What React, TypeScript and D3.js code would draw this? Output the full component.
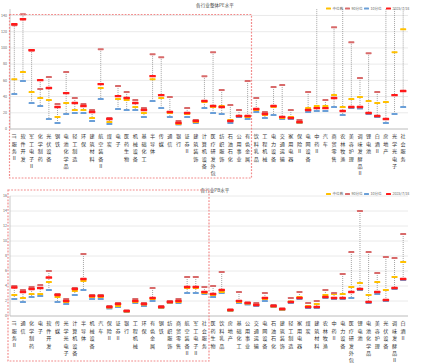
import React from "react";
import * as d3 from "d3";

// ---------- Top panel (PE) ----------
const peCategories = ["IT服务Ⅱ","软件开发","军工电子Ⅱ","化学制药","光伏设备","钢铁","电池化学品","轻工制造","环保","建筑材料","航空装备Ⅱ","煤炭","电子","医药生物","机械设备","基础化工","半导体","传媒","通信","银行","证券Ⅱ","建筑装饰","计算机设备","医疗研发外包","纺织服饰","石油石化","公用事业","有色金属","饮料乳品","工程机械","电力设备","交通运输","家用电器","保险Ⅱ","电网设备","中药Ⅱ","汽车","商贸零售","农林牧渔","美容护理","调味发酵品Ⅱ","锂电池","白酒Ⅱ","房地产","光学光电子","社会服务"];
const peP90 = [128,141.5,97,49.2,64,30.8,70.2,38.2,30.8,23.4,98.5,13.5,52.9,45.5,35.7,25.8,92.3,88.6,39.4,9.8,25.8,11.1,65.2,94.8,48,29.5,23.4,59.1,38.2,20.9,51.7,54.2,23.4,11.1,45.5,170,35.7,125.5,180,107,62.8,93.5,45.5,200,190,220];
const peCurrent = [129.2,135.4,97.2,60.3,50.5,27.1,44.3,32,28.3,20.9,55.4,12.3,40.6,38.2,32,23.4,65.2,41.8,20.9,7.4,19.7,9.8,34.5,28.3,27.1,9.8,16,16,24.6,18.5,28.3,14.8,13.5,8.6,23.4,25.8,25.8,38.2,22.2,27.1,27.1,19.7,16,12.3,41.8,46.8];
const peMedian = [61.5,70.2,45.5,38.2,35.7,14.8,32,23.4,23.4,13.5,50.5,8.6,36.9,35.7,27.1,19.7,61.5,38.2,19.7,6.2,18.5,8.6,33.2,27.1,28.3,11.1,16,14.8,23.4,17.2,27.1,13.5,14.8,8,25.8,28.3,28.3,41.8,27.1,36.9,39.4,34.5,32,33.2,94.8,123];
const peP10 = [43.1,59.1,32,28.3,12.3,7.4,18.5,19.7,19.7,9.8,36.9,6.2,24.6,23.4,23.4,14.8,34.5,25.8,14.8,5.5,14.8,7.4,25.8,19.7,18.5,7.4,14.8,12.3,20.9,13.5,17.2,12.3,12.3,7.4,20.9,22.2,22.2,27.1,17.2,25.8,25.2,18.5,14.8,7.4,18.5,27.1];
const peTicks = [0,20,40,60,80,100,120,140];

// ---------- Bottom panel (PB) ----------
const pbCategories = ["IT服务Ⅱ","通信","化学制药","电子","软件开发","传媒","光学光电子","计算机设备","半导体","机械设备","汽车","保险Ⅱ","证券Ⅱ","银行","工程机械","环保","有色金属","钢铁","纺织服饰","商贸零售","航空装备Ⅱ","军工电子Ⅱ","社会服务","医药生物","饮料乳品","房地产","基础化工","公用事业","交通运输","电网设备","石油石化","建筑装饰","轻工制造","家用电器","煤炭","建筑材料","农林牧渔","中药Ⅱ","电力设备","医疗研发外包","锂电池","电池化学品","美容护理","光伏设备","调味发酵品Ⅱ","白酒Ⅱ"];
const pbP90 = [4.0,3.47,3.87,4.13,6.0,2.93,2.27,3.73,8.27,2.8,2.8,1.33,1.73,0.73,2.27,1.73,3.73,1.33,2.0,2.27,5.2,5.2,3.87,4.0,5.87,0.87,3.2,1.8,1.73,3.07,1.47,1.0,2.4,3.2,1.73,2.0,3.47,3.07,5.6,8.53,14.0,8.53,5.73,7.87,7.73,10.93];
const pbCurrent = [3.8,3.2,3.6,3.73,5.13,2.8,2.0,3.6,4.93,2.67,2.67,1.2,1.6,0.67,2.0,1.6,2.4,1.2,1.87,2.0,3.87,3.87,3.2,2.93,3.47,0.8,2.0,1.73,1.47,2.4,1.33,0.93,1.87,2.4,1.2,1.2,2.53,2.4,2.4,3.2,3.6,1.87,3.2,2.13,3.73,4.93];
const pbMedian = [2.8,2.4,2.93,2.93,4.53,2.53,1.87,3.33,4.67,2.53,2.53,1.13,1.33,0.6,1.87,1.53,2.27,1.13,1.8,1.87,3.73,3.73,3.07,2.8,3.2,0.73,1.87,1.67,1.53,2.27,1.27,0.87,1.93,2.53,1.33,1.6,2.8,2.93,2.93,3.87,4.4,2.8,4.53,3.47,5.2,7.2];
const pbP10 = [2.27,1.87,2.53,2.67,3.47,1.87,1.6,2.8,3.47,2.27,2.27,1.0,1.2,0.53,1.73,1.33,2.0,1.07,1.73,1.73,3.07,3.07,2.93,2.53,3.07,0.67,1.73,1.53,1.33,2.0,1.2,0.8,1.73,2.27,1.07,1.07,2.4,2.27,2.27,2.4,3.47,1.73,2.93,2.0,3.6,4.8];
const pbTicks = [0,2,4,6,8,10,12,14,16];

const legendNames = ["中位数","90分位","10分位","2025/7/18"];

const C_MED = "#FFC000";
const C_P90 = "#D86A6A";
const C_P10 = "#6A9FD8";
const C_CUR = "#FF1A1A";
const FONT = "'Noto Sans CJK SC', 'Noto Sans', sans-serif";
const LABEL_FS = 5.1;
const LABEL_STEP = 7.4;

function VerticalLabel({ cx, top, text }: { cx: number; top: number; text: string }) {
  const parts: React.ReactNode[] = [];
  let cursor = top;
  const chars = Array.from(text);
  let i = 0;
  let k = 0;
  while (i < chars.length) {
    if (/[A-Za-z0-9]/.test(chars[i])) {
      let run = "";
      while (i < chars.length && /[A-Za-z0-9]/.test(chars[i])) { run += chars[i]; i++; }
      parts.push(
        <text key={k++} transform={`translate(${cx - 0.2},${cursor}) rotate(90)`} dy="0.35em" fontSize={LABEL_FS}
          fill="#333" fontFamily={FONT}>{run}</text>
      );
      cursor += run.length * LABEL_FS * 0.5 + 2;
    } else {
      parts.push(
        <text key={k++} x={cx} y={cursor + LABEL_FS * 0.88} textAnchor="middle" fontSize={LABEL_FS}
          fill="#333" fontFamily={FONT}>{chars[i]}</text>
      );
      cursor += LABEL_STEP;
      i++;
    }
  }
  return <g>{parts}</g>;
}

type PanelProps = {
  id: string;
  cats: string[];
  p90: number[];
  cur: number[];
  med: number[];
  p10: number[];
  domain: [number, number];
  top: number;
  bottom: number;
  ticks: number[];
  title: string;
  titleY: number;
  legendY: number;
  box: [number, number, number, number];
};

function Panel(p: PanelProps) {
  const x = d3.scaleBand<string>().domain(p.cats).range([10, 407.5]).padding(0);
  const y = d3.scaleLinear().domain(p.domain).range([p.bottom, p.top]);
  const bw = x.bandwidth();
  const legendColors = [C_MED, C_P90, C_P10, C_CUR];
  const legendX = [326, 345, 364, 386];
  const mark = (cx: number, v: number, color: string, key: string, w = 6, h = 2) => (
    <rect key={key} x={cx - w / 2} y={y(v) - h / 2} width={w} height={h} rx={0.6} fill={color} />
  );
  return (
    <g>
      <defs>
        <clipPath id={p.id}>
          <rect x={8} y={p.top} width={402} height={p.bottom - p.top + 3} />
        </clipPath>
      </defs>
      {p.ticks.map((t) => (
        <line key={"g" + t} x1={10} x2={408} y1={y(t)} y2={y(t)} stroke="#E4E4E4" strokeWidth={0.8} />
      ))}
      {p.ticks.map((t) => (
        <text key={"t" + t} x={7} y={y(t)} dy="0.35em" textAnchor="end" fontSize={3.6} fill="#666" fontFamily={FONT}>{t}</text>
      ))}
      <line x1={10} x2={10} y1={p.top} y2={p.bottom} stroke="#BBB" strokeWidth={0.8} />
      <line x1={10} x2={408} y1={p.bottom} y2={p.bottom} stroke="#BBB" strokeWidth={0.8} />
      <g clipPath={`url(#${p.id})`}>
        {p.cats.map((c, i) => {
          const cx = x(c)! + bw / 2;
          const vals = [p.p90[i], p.cur[i], p.med[i], p.p10[i]];
          const lo = d3.min(vals)!;
          const hi = d3.max(vals)!;
          return (
            <g key={c}>
              <line x1={cx} x2={cx} y1={y(hi)} y2={y(lo)} stroke="#9A9A9A" strokeWidth={0.9} strokeDasharray="1,1" />
              {mark(cx, p.p10[i], C_P10, "a")}
              {mark(cx, p.med[i], C_MED, "b")}
              {mark(cx, p.p90[i], C_P90, "c")}
              {mark(cx, p.cur[i], C_CUR, "d", 6.5, 2.4)}
            </g>
          );
        })}
      </g>
      {p.cats.map((c) => (
        <VerticalLabel key={"l" + c} cx={x(c)! + bw / 2} top={p.bottom + 5} text={c} />
      ))}
      <text x={215} y={p.titleY} textAnchor="middle" fontSize={4.6} fill="#444" fontFamily={FONT}>{p.title}</text>
      {legendNames.map((n, i) => (
        <g key={n}>
          <rect x={legendX[i]} y={p.legendY - 1} width={5} height={2} rx={0.5} fill={legendColors[i]} />
          <text x={legendX[i] + 6.5} y={p.legendY} dy="0.35em" fontSize={3.6} fill="#666" fontFamily={FONT}>{n}</text>
        </g>
      ))}
      <rect x={p.box[0]} y={p.box[1]} width={p.box[2] - p.box[0]} height={p.box[3] - p.box[1]}
        fill="none" stroke="#F28B8B" strokeWidth={1.2} strokeDasharray="1.8,1.4" />
    </g>
  );
}

export default function App() {
  return (
    <svg width={432} height={363} style={{ position: "absolute", left: 0, top: 0, background: "#fff" }}>
      <rect x={0} y={0} width={432} height={363} fill="#fff" />
      <Panel id="clipTop" cats={peCategories} p90={peP90} cur={peCurrent} med={peMedian} p10={peP10}
        domain={[0, 148]} top={9} bottom={129} ticks={peTicks} title="各行业整体PE水平" titleY={6.5} legendY={8.5}
        box={[9.5, 14.5, 251.5, 178]} />
      <Panel id="clipBot" cats={pbCategories} p90={pbP90} cur={pbCurrent} med={pbMedian} p10={pbP10}
        domain={[0, 16]} top={196} bottom={316} ticks={pbTicks} title="各行业PB水平" titleY={192} legendY={194}
        box={[8, 190, 209, 361]} />
    </svg>
  );
}
